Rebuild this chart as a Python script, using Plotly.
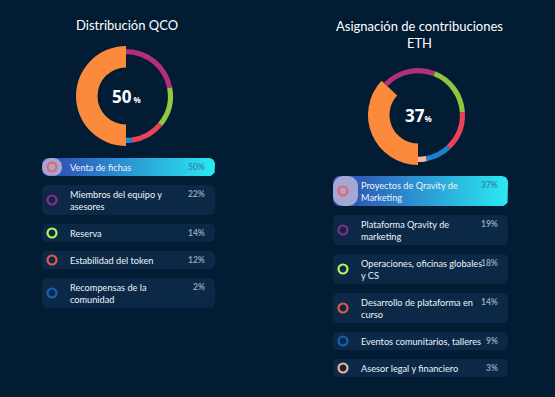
import math
import plotly.graph_objects as go

W, H = 555, 397

# ---------------- data ----------------
qco_title = "Distribución QCO"
qco_categories = ["Venta de fichas", "Miembros del equipo y<br>asesores", "Reserva",
                  "Estabilidad del token", "Recompensas de la<br>comunidad"]
qco_values = [50, 22, 14, 12, 2]
qco_slice_colors = ["#fc8a3d", "#b32f7c", "#93c940", "#e9435a", "#1d8fd0"]
qco_dot_colors = ["#f2625e", "#8c2a8c", "#b8f05c", "#e0584a", "#1560b8"]

eth_title = "Asignación de contribuciones<br>ETH"
eth_categories = ["Proyectos de Qravity de<br>Marketing", "Plataforma Qravity de<br>marketing",
                  "Operaciones, oficinas globales<br>y CS", "Desarrollo de plataforma en<br>curso",
                  "Eventos comunitarios, talleres", "Asesor legal y financiero"]
eth_values = [37, 19, 18, 14, 9, 3]
eth_slice_colors = ["#fc8a3d", "#b32f7c", "#8cc63f", "#e9435a", "#1f7fc8", "#f2b8a0"]
eth_dot_colors = ["#f2625e", "#8c2a8c", "#b8f05c", "#e0584a", "#1560b8", "#f0b08a"]

BG = "#021c33"
ROW_BG = "#0b2946"
LABEL_FONT = "Lato, Roboto, sans-serif"

charts = [
    dict(title=qco_title, cats=qco_categories, vals=qco_values, slice=qco_slice_colors,
         dots=qco_dot_colors, cx=126, cy=96, title_y=25, x0=42, x1=215, y_start=158,
         pct="<b>{}</b><span style='font-size:8px'><b> %</b></span>"),
    dict(title=eth_title, cats=eth_categories, vals=eth_values, slice=eth_slice_colors,
         dots=eth_dot_colors, cx=418, cy=115, title_y=34, x0=333, x1=508, y_start=176,
         pct="<b>{}</b><span style='font-size:8px'><b>%</b></span>"),
]

fig = go.Figure()
shapes, annotations = [], []


def dom(cx, cy, r):
    return dict(x=[(cx - r) / W, (cx + r) / W], y=[1 - (cy + r) / H, 1 - (cy - r) / H])


def rr_path(x0, y0, x1, y1, r):
    return (f"M{x0+r},{y0} L{x1-r},{y0} Q{x1},{y0} {x1},{y0+r} L{x1},{y1-r} "
            f"Q{x1},{y1} {x1-r},{y1} L{x0+r},{y1} Q{x0},{y1} {x0},{y1-r} "
            f"L{x0},{y0+r} Q{x0},{y0} {x0+r},{y0} Z")


def rr_points(x0, y0, x1, y1, r, n=8):
    xs, ys = [], []
    corners = [(x1 - r, y0 + r, -90), (x1 - r, y1 - r, 0), (x0 + r, y1 - r, 90), (x0 + r, y0 + r, 180)]
    for (ccx, ccy, a0) in corners:
        for i in range(n + 1):
            a = math.radians(a0 + 90 * i / n)
            xs.append(ccx + r * math.cos(a))
            ys.append(ccy + r * math.sin(a))
    xs.append(xs[0]); ys.append(ys[0])
    return xs, ys


for ch in charts:
    n = len(ch["vals"])
    thick_colors = [ch["slice"][0]] + ["rgba(0,0,0,0)"] * (n - 1)
    thin_colors = ["rgba(0,0,0,0)"] + ch["slice"][1:]
    common = dict(labels=[c.replace("<br>", " ") for c in ch["cats"]], values=ch["vals"],
                  sort=False, direction="clockwise", rotation=180, textinfo="none",
                  hoverinfo="skip", showlegend=False)
    fig.add_trace(go.Pie(**common, domain=dom(ch["cx"], ch["cy"], 50), hole=0.57,
                         marker=dict(colors=thick_colors, line=dict(width=0))))
    fig.add_trace(go.Pie(**common, domain=dom(ch["cx"], ch["cy"], 47), hole=0.89,
                         marker=dict(colors=thin_colors, line=dict(width=0))))

    # title
    annotations.append(dict(x=ch["cx"] + 1, y=ch["title_y"], xref="x", yref="y", text=ch["title"],
                            showarrow=False, font=dict(family="Lato, sans-serif", size=13, color="#ffffff"),
                            xanchor="center", yanchor="middle", align="center"))
    # center value
    annotations.append(dict(x=ch["cx"], y=ch["cy"], xref="x", yref="y",
                            text=ch["pct"].format(ch["vals"][0]),
                            showarrow=False, font=dict(family="Open Sans, sans-serif", size=17, color="#ffffff"),
                            xanchor="center", yanchor="middle"))

    # legend rows
    y = ch["y_start"]
    dot_x, dot_y = [], []
    for i, (cat, val) in enumerate(zip(ch["cats"], ch["vals"])):
        h = 30 if "<br>" in cat else 18
        y0, y1 = y, y + h
        x0, x1 = ch["x0"], ch["x1"]
        if i == 0:
            gx, gy = rr_points(x0, y0, x1, y1, 6)
            fig.add_trace(go.Scatter(x=gx, y=gy, mode="lines", fill="toself", line=dict(width=0),
                                     fillgradient=dict(type="horizontal",
                                                       colorscale=[[0, "#3044ad"], [0.45, "#2b8fd0"], [1, "#2aeaf0"]]),
                                     hoverinfo="skip", showlegend=False))
            px, py = rr_points(x0, y0, x0 + (25 if h > 20 else 20), y1, min(10, h / 2 - 0.5))
            fig.add_trace(go.Scatter(x=px, y=py, mode="lines", fill="toself", line=dict(width=0),
                                     fillcolor="#a4a6d6", hoverinfo="skip", showlegend=False))
            pct_color = "#3a86b0"
        else:
            shapes.append(dict(type="path", path=rr_path(x0, y0, x1, y1, 6), xref="x", yref="y",
                               fillcolor=ROW_BG, line=dict(width=0), layer="below"))
            pct_color = "#8fa3b8"
        dot_x.append(x0 + 10)
        dot_y.append((y0 + y1) / 2)
        annotations.append(dict(x=x0 + 26, y=(y0 + y1) / 2, xref="x", yref="y", text=cat, showarrow=False,
                                xanchor="left", yanchor="middle", align="left",
                                font=dict(family=LABEL_FONT, size=9.2, color="#eef3f8")))
        annotations.append(dict(x=x1 - 8, y=y0 + 9, xref="x", yref="y", text=f"<b>{val}%</b>",
                                showarrow=False, xanchor="right", yanchor="middle",
                                font=dict(family=LABEL_FONT, size=8.5, color=pct_color)))
        y = y1 + 9
    fig.add_trace(go.Scatter(x=dot_x, y=dot_y, mode="markers", hoverinfo="skip", showlegend=False,
                             marker=dict(symbol="circle", size=9,
                                         color=["#a4a6d6"] + [ROW_BG] * (len(dot_x) - 1),
                                         line=dict(width=2.2, color=ch["dots"]))))

fig.update_layout(
    width=W, height=H, margin=dict(l=0, r=0, t=0, b=0),
    paper_bgcolor=BG, plot_bgcolor=BG,
    xaxis=dict(range=[0, W], visible=False, fixedrange=True),
    yaxis=dict(range=[H, 0], visible=False, fixedrange=True),
    shapes=shapes, annotations=annotations,
)

fig.write_html("out.html", config={"displayModeBar": False},
               post_script="document.body.style.margin='0';document.body.style.overflow='hidden';"
                           "document.body.style.background='" + BG + "';")
